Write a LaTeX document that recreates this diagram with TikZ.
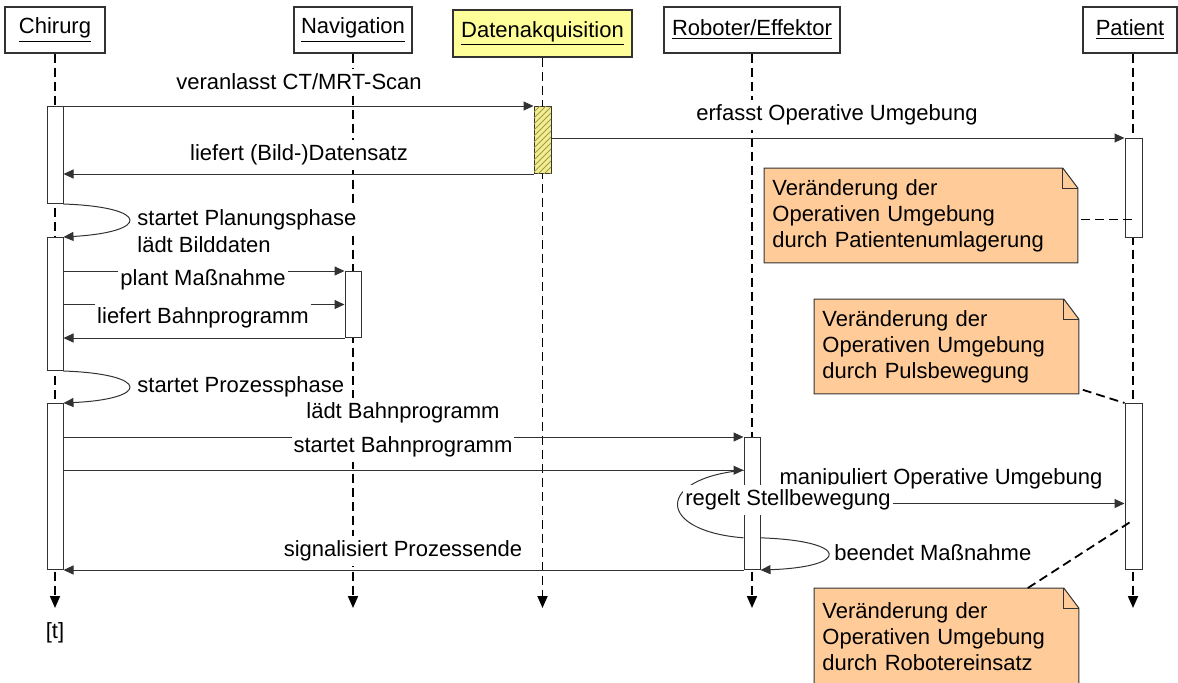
\documentclass[tikz,border=0pt]{standalone}
\usepackage{fontspec}
\setmainfont{Liberation Sans}
\usepackage{tikz}
\usetikzlibrary{
    positioning,
    arrows.meta,
    calc,
    patterns,
    backgrounds
}
\definecolor{lineGray}{RGB}{50, 50, 50}
\definecolor{noteOrange}{RGB}{255, 204, 153}
\definecolor{headYellow}{RGB}{255, 255, 153}
\definecolor{dataYellow}{RGB}{242, 238, 150}
\definecolor{hatchOlive}{RGB}{165, 155, 60}
\tikzset{
    % Kopf einer Lebenslinie
    actor/.style={
        rectangle,
        draw=lineGray,
        fill=white,
        line width=0.6pt,
        minimum height=23pt,
        inner sep=0pt
    },
    % gestrichelte Lebenslinie mit Zeitpfeil
    lifeline/.style={
        dash pattern=on 4.5pt off 2.5pt,
        line width=0.9pt,
        color=black,
        -{Triangle[length=6pt, width=5pt]}
    },
    % Aktivierungsbalken
    bar/.style={
        rectangle,
        draw=lineGray,
        fill=white,
        line width=0.5pt,
        minimum width=8pt,
        inner sep=0pt,
        anchor=north
    },
    % Nachricht
    msg/.style={
        draw=lineGray,
        line width=0.5pt,
        -{Triangle[length=5pt, width=4.5pt]}
    },
    % Beschriftung der Nachrichten
    msglabel/.style={
        fill=white,
        inner xsep=1pt,
        inner ysep=2.5pt
    },
    % Notiz
    note/.style={
        rectangle,
        inner xsep=4pt,
        inner ysep=0pt,
        align=left,
        minimum height=47pt,
        anchor=north west
    },
    noteframe/.style={
        draw=lineGray,
        fill=noteOrange,
        line width=0.5pt
    },
    noteline/.style={
        dash pattern=on 4.5pt off 2.5pt,
        line width=0.9pt,
        color=black
    }
}

\begin{document}
\begin{tikzpicture}[x=0.5pt, y=-0.5pt, font=\fontsize{11}{13}\selectfont]

    \useasboundingbox (0,0) rectangle (1178,682);

    % Ende der Zeitachse
    \coordinate (tend) at (0,608);

    % Beteiligte
    \node[actor, minimum width=50pt] (chirurg) at (55,30) {\underline{Chirurg}};
    \node[actor, minimum width=59pt] (navi) at (353,30) {\underline{Navigation}};
    \node[actor, minimum width=89.5pt, minimum height=23.5pt, fill=headYellow] (daten) at (542.5,33.5) {\underline{Datenakquisition}};
    \node[actor, minimum width=88pt] (robo) at (752,30) {\underline{Roboter/Effektor}};
    \node[actor, minimum width=47pt] (patient) at (1130,30) {\underline{Patient}};

    % Lebenslinien
    \draw[lifeline] (chirurg) -- (chirurg |- tend);
    \draw[lifeline] (navi) -- (navi |- tend);
    \draw[lifeline] (daten) -- (daten |- tend);
    \draw[lifeline] (robo) -- (robo |- tend);
    \draw[lifeline] ([xshift=1.5pt]patient.south) -- ([xshift=1.5pt]patient.south |- tend);

    % Aktivierungsbalken
    \node[bar, minimum height=48.5pt] (cbar1) at (55,106) {};
    \node[bar, minimum width=8.5pt, minimum height=33.5pt, fill=dataYellow,
          postaction={pattern=north east lines, pattern color=hatchOlive}] (dbar) at (542.5,106) {};
    \node[bar, minimum width=8.5pt, minimum height=49.5pt] (pbar1) at (1133.5,138) {};
    \node[bar, minimum height=66.5pt] (cbar2) at (55,237) {};
    \node[bar, minimum height=33pt] (nbar) at (353,271) {};
    \node[bar, minimum height=83pt] (cbar3) at (55,403) {};
    \node[bar, minimum height=66pt] (rbar) at (752,437) {};
    \node[bar, minimum width=8.5pt, minimum height=83pt] (pbar2) at (1133.5,403) {};

    % Hilfspunkte am Roboterbalken
    \coordinate (rIn) at ($(rbar.north west)!0.25!(rbar.south west)$);
    \coordinate (rLoop) at ($(rbar.north west)!0.758!(rbar.south west)$);
    \coordinate (rEnd) at ($(rbar.north east)!0.758!(rbar.south east)$);

    % Nachrichten
    \draw[msg] (cbar1.north east) -- (dbar.north west);
    \draw[msg] (dbar.south west) -- (cbar1.east |- dbar.south);
    \draw[msg] (dbar.east |- pbar1.north) -- (pbar1.north west);
    \draw[msg] (cbar1.south east) .. controls +(87,3) and +(87,-5) .. (cbar2.north east);
    \draw[msg] (cbar2.east |- nbar.north) -- (nbar.north west);
    \draw[msg] (cbar2.east |- nbar.west) -- (nbar.west);
    \draw[msg] (nbar.south west) -- (cbar2.east |- nbar.south);
    \draw[msg] (cbar2.south east) .. controls +(87,3) and +(87,-4) .. (cbar3.north east);
    \draw[msg] (cbar3.east |- rbar.north) -- (rbar.north west);
    \draw[msg] (cbar3.east |- rIn) -- (rIn);
    \draw[draw=lineGray, line width=0.5pt] (rLoop) .. controls +(-88,-7) and +(-88,8) .. (rIn);
    \draw[msg] (rbar.east) -- (pbar2.west |- rbar.east);
    \draw[msg] (rEnd) .. controls +(90,3) and +(90,-3) .. (rbar.south east);
    \draw[msg] (rbar.south west) -- (cbar3.south east);

    % Beschriftungen
    \node[msglabel] (m1) at (299,82) {veranlasst CT/MRT-Scan};
    \node[msglabel] (m2) at (299,155) {liefert (Bild-)Datensatz};
    \node[msglabel] (m3) at (837,115) {erfasst Operative Umgebung};
    \node[msglabel, anchor=west] (m4) at (135,220) {startet Planungsphase};
    \node[msglabel, anchor=west] (m5) at (135,245) {lädt Bilddaten};
    \node[msglabel] (m6) at (203,280) {plant Maßnahme};
    \node[msglabel] (m7) at (203,318) {liefert Bahnprogramm};
    \node[msglabel, anchor=west] (m8) at (135,387) {startet Prozessphase};
    \node[msglabel] (m9) at (403,413) {lädt Bahnprogramm};
    \node[msglabel] (m10) at (403,447) {startet Bahnprogramm};
    \node[msglabel] (m11) at (941,479) {manipuliert Operative Umgebung};
    \node[msglabel] (m12) at (788,500) {regelt Stellbewegung};
    \node[msglabel, anchor=west] (m13) at (832,553) {beendet Maßnahme};
    \node[msglabel] (m14) at (403,551) {signalisiert Prozessende};
    \node (zeit) at (55,633) {[t]};

    % Notizen
    \node[note, text width=148.5pt] (note1) at (764,168) {Veränderung der\\Operativen Umgebung\\durch Patientenumlagerung};
    \node[note, text width=124pt] (note2) at (814,299) {Veränderung der\\Operativen Umgebung\\durch Pulsbewegung};
    \node[note, text width=124pt, minimum height=48pt] (note3) at (814,588) {Veränderung der\\Operativen Umgebung\\durch Robotereinsatz};

    % Rahmen mit Eselsohr
    \begin{scope}[on background layer]
        \foreach \n in {note1,note2,note3} {
            \draw[noteframe] (\n.north west) -- ([xshift=-7.5pt]\n.north east)
                -- ([yshift=-10pt]\n.north east) -- (\n.south east) -- (\n.south west) -- cycle;
            \draw[noteframe, fill=none] ([xshift=-7.5pt]\n.north east) |- ([yshift=-10pt]\n.north east);
        }
    \end{scope}

    % Verbindungen der Notizen
    \coordinate (n1out) at ([shift={(1.5pt,-2pt)}]note1.east);
    \draw[noteline] (n1out) -- (pbar1.center |- n1out);
    \draw[noteline] ([shift={(2pt,2pt)}]note2.south east) -- (pbar2.north west);
    \draw[noteline] ([xshift=-25.5pt]note3.north east) -- ($(pbar2.north)!0.7!(pbar2.south)$);

\end{tikzpicture}
\end{document}
